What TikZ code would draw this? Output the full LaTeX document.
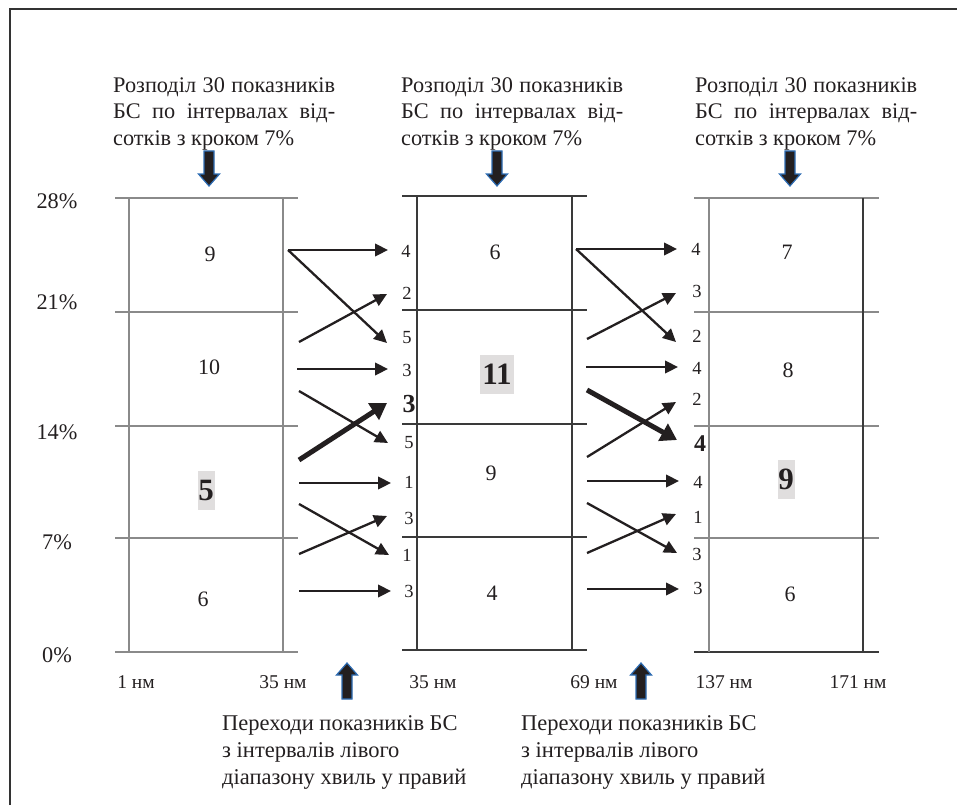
\documentclass[tikz,border=0pt]{standalone}
\usepackage{fontspec}
\setmainfont{Liberation Serif}
\usetikzlibrary{arrows.meta}
\definecolor{ink}{HTML}{231F20}
\definecolor{hl}{HTML}{E0DEDE}
\definecolor{edgeblue}{HTML}{2E6DB4}
\definecolor{greyA}{HTML}{8A8A8A}
\definecolor{greyB}{HTML}{3A3A3A}
\begin{document}
\begin{tikzpicture}[x=1pt,y=-1pt,
  txt/.style={font=\fontsize{22.3}{26.5}\selectfont, text=ink, inner sep=0pt},
  num/.style={font=\fontsize{22}{22}\selectfont, text=ink, inner sep=0pt},
  bignum/.style={font=\fontsize{31}{31}\selectfont\bfseries, text=ink, fill=hl, inner sep=0pt, minimum height=39pt},
  lab/.style={font=\fontsize{18.5}{19}\selectfont, text=ink, inner sep=0pt},
  boldlab/.style={font=\fontsize{26}{26}\selectfont\bfseries, text=ink, inner sep=0pt},
  axlab/.style={font=\fontsize{19.5}{20}\selectfont, text=ink, inner sep=0pt},
  thinarr/.style={draw=ink, line width=2.3pt, -{Triangle[length=13pt,width=12.5pt]}},
  thickarr/.style={draw=ink, line width=5pt, -{Triangle[length=16pt,width=19pt]}},
  blockarr/.style={fill=ink, draw=edgeblue, line width=1.2pt},
  glineA/.style={draw=greyA, line width=1.4pt},
  glineB/.style={draw=greyB, line width=1.2pt},
]
\useasboundingbox (0,0) rectangle (957,805);
% frame
\draw[line width=2pt, draw=black!80] (10,805) -- (10,9) -- (957,9);

% grid blocks
\foreach \y in {198,312,426,538,652} \draw[glineA] (115,\y) -- (298,\y);
\draw[glineA] (129,198) -- (129,652);
\draw[glineA] (283,198) -- (283,652);
\foreach \y in {196,310,424,537,650} \draw[glineB] (402,\y) -- (587,\y);
\draw[glineB] (417,196) -- (417,650);
\draw[glineB] (572,196) -- (572,650);
\foreach \y in {198,312,426,538} \draw[glineA] (694,\y) -- (879,\y);
\draw[glineB] (694,652) -- (879,652);
\draw[glineA] (709,198) -- (709,652);
\draw[glineB] (863,198) -- (863,652);

% percent labels
\node[txt] (p28) at (57,201) {28\%};
\node[txt] (p21) at (57,302) {21\%};
\node[txt] (p14) at (57,432) {14\%};
\node[txt] (p7) at (57,542) {7\%};
\node[txt] (p0) at (57,655) {0\%};

% wavelength labels
\node[axlab] (w1) at (136,682) {1 нм};
\node[axlab] (w2) at (283,682) {35 нм};
\node[axlab] (w3) at (433,682) {35 нм};
\node[axlab] (w4) at (594,682) {69 нм};
\node[axlab] (w5) at (724,682) {137 нм};
\node[axlab] (w6) at (858,682) {171 нм};

% top texts
\node[txt, anchor=north west, align=left] (top1) at (113,77)
  {\makebox[222pt][s]{Розподіл 30 показників}\\\makebox[222pt][s]{БС по інтервалах від-}\\сотків з кроком 7\%};
\node[txt, anchor=north west, align=left] (top2) at (401,77)
  {\makebox[222pt][s]{Розподіл 30 показників}\\\makebox[222pt][s]{БС по інтервалах від-}\\сотків з кроком 7\%};
\node[txt, anchor=north west, align=left] (top3) at (695,77)
  {\makebox[222pt][s]{Розподіл 30 показників}\\\makebox[222pt][s]{БС по інтервалах від-}\\сотків з кроком 7\%};

% bottom texts
\node[txt, font=\fontsize{22.5}{27}\selectfont, anchor=north west, align=left] (bot1) at (222,715.5)
  {Переходи показників БС\\з інтервалів лівого\\діапазону хвиль у правий};
\node[txt, font=\fontsize{22.5}{27}\selectfont, anchor=north west, align=left] (bot2) at (521,715.5)
  {Переходи показників БС\\з інтервалів лівого\\діапазону хвиль у правий};

% block arrows down
\foreach \cx in {209,497,790} {
  \draw[blockarr] (\cx-5,151) -- (\cx+5,151) -- (\cx+5,174) -- (\cx+10.5,174) -- (\cx,186) -- (\cx-10.5,174) -- (\cx-5,174) -- cycle;
}
% block arrows up
\foreach \cx in {347,641} {
  \draw[blockarr] (\cx-5,699) -- (\cx+5,699) -- (\cx+5,675) -- (\cx+10.5,675) -- (\cx,663) -- (\cx-10.5,675) -- (\cx-5,675) -- cycle;
}

% box numbers
\node[num] (l1) at (210,254) {9};
\node[num] (l2) at (209,367) {10};
\node[bignum, minimum width=17pt] (l3) at (206,490) {5};
\node[num] (l4) at (203,599) {6};
\node[num] (m1) at (495,252) {6};
\node[bignum, minimum width=34pt] (m2) at (497,374) {11};
\node[num] (m3) at (491,473) {9};
\node[num] (m4) at (492,593) {4};
\node[num] (r1) at (787,252) {7};
\node[num] (r2) at (788,370) {8};
\node[bignum, minimum width=17pt] (r3) at (786,479) {9};
\node[num] (r4) at (790,594) {6};

% middle side labels
\node[lab] (ma) at (406,251) {4};
\node[lab] (mb) at (407,293) {2};
\node[lab] (mc) at (407,338) {5};
\node[lab] (md) at (407,370) {3};
\node[boldlab] (me) at (409,404) {3};
\node[lab] (mf) at (409,443) {5};
\node[lab] (mg) at (409,482) {1};
\node[lab] (mh) at (409,518) {3};
\node[lab] (mi) at (407,555) {1};
\node[lab] (mj) at (409,591) {3};
% right side labels
\node[lab] (ra) at (696,249) {4};
\node[lab] (rb) at (697,291) {3};
\node[lab] (rc) at (697,336) {2};
\node[lab] (rd) at (697,368) {4};
\node[lab] (re) at (697,399) {2};
\node[font=\fontsize{24}{24}\selectfont\bfseries, text=ink, inner sep=0pt] (rf) at (700,444) {4};
\node[lab] (rg) at (698,482) {4};
\node[lab] (rh) at (698,517) {1};
\node[lab] (ri) at (697,554) {3};
\node[lab] (rj) at (698,588) {3};

% transition arrows
\foreach \n/\sx/\sy/\ex/\ey in {
  a1/288/250/388/250, a2/288/250/387/343, a3/299/342/387/294, a4/297/369/388/369,
  a5/299/391/388/443, a7/299/483/391/483, a8/299/504/389/555, a9/299/554/387/516,
  a10/299/591/391/591,
  b1/576/249/677/249, b2/576/249/676/342, b3/587/339/676/293, b4/586/367/678/367,
  b6/587/457/676/402, b7/587/481/679/481, b8/587/503/677/553, b9/587/553/676/514,
  b10/587/589/679/589} {
  \coordinate (s\n) at (\sx,\sy);
  \coordinate (e\n) at (\ex,\ey);
  \draw[thinarr] (s\n) -- (e\n);
}
\coordinate (sa6) at (299,460);
\coordinate (ea6) at (387,403);
\draw[thickarr] (sa6) -- (ea6);
\coordinate (sb5) at (587,390);
\coordinate (eb5) at (677,440);
\draw[thickarr] (sb5) -- (eb5);
\end{tikzpicture}
\end{document}
